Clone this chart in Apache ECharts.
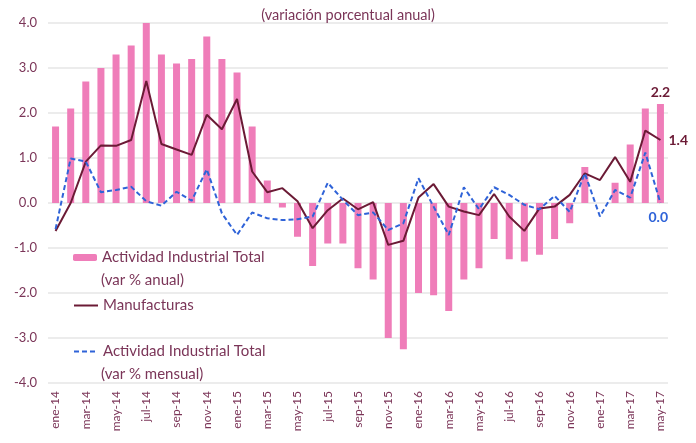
<!DOCTYPE html>
<html>
<head>
<meta charset="utf-8">
<script src="https://cdn.jsdelivr.net/npm/echarts@6/dist/echarts.min.js"></script>
<style>
  html, body { margin: 0; padding: 0; background: #fff; }
  #chart { width: 696px; height: 443px; }
</style>
</head>
<body>
<div id="chart"></div>
<script>
const months = [
  'ene-14', 'feb-14', 'mar-14', 'abr-14', 'may-14', 'jun-14', 'jul-14', 'ago-14', 'sep-14', 'oct-14', 'nov-14', 'dic-14',
  'ene-15', 'feb-15', 'mar-15', 'abr-15', 'may-15', 'jun-15', 'jul-15', 'ago-15', 'sep-15', 'oct-15', 'nov-15', 'dic-15',
  'ene-16', 'feb-16', 'mar-16', 'abr-16', 'may-16', 'jun-16', 'jul-16', 'ago-16', 'sep-16', 'oct-16', 'nov-16', 'dic-16',
  'ene-17', 'feb-17', 'mar-17', 'abr-17', 'may-17'
]

// Actividad Industrial Total (var % anual)
const totalAnual = [
  1.7, 2.1, 2.7, 3.0, 3.3, 3.5, 4.0, 3.3, 3.1, 3.2, 3.7, 3.2,
  2.9, 1.7, 0.5, -0.1, -0.75, -1.4, -0.9, -0.9, -1.45, -1.7, -3.0, -3.25,
  -2.0, -2.05, -2.4, -1.7, -1.45, -0.8, -1.25, -1.3, -1.15, -0.8, -0.45, 0.8,
  0.0, 0.45, 1.3, 2.1, 2.2
]

const manufacturas = [
  -0.62, 0.0, 0.92, 1.28, 1.27, 1.4, 2.71, 1.31, 1.19, 1.07, 1.96, 1.64,
  2.31, 0.7, 0.24, 0.33, 0.04, -0.56, -0.16, 0.1, -0.14, 0.02, -0.93, -0.84,
  0.12, 0.42, -0.08, -0.19, -0.27, 0.2, -0.3, -0.62, -0.12, -0.08, 0.18, 0.66,
  0.51, 1.02, 0.47, 1.61, 1.4
]

// Actividad Industrial Total (var % mensual)
const totalMensual = [
  -0.58, 0.99, 0.92, 0.24, 0.29, 0.36, 0.04, -0.06, 0.25, 0.05, 0.75, -0.23,
  -0.71, -0.21, -0.34, -0.38, -0.36, -0.3, 0.45, 0.07, -0.27, -0.21, -0.6, -0.45,
  0.55, -0.08, -0.71, 0.35, -0.14, 0.35, 0.18, -0.04, -0.14, 0.16, -0.2, 0.66,
  -0.3, 0.29, 0.12, 1.12, 0.0
]

const yTicks = { min: -4, max: 4, interval: 1 }

const textColor = '#7b3558'
const pink = '#ef7db9'
const maroon = '#6b1a35'
const blue = '#2f63d8'
const font = 'Lato'

const last = months.length - 1

const chart = echarts.init(document.getElementById('chart'), null, { renderer: 'canvas' })

const legendBase = {
  orient: 'vertical',
  left: 73,
  padding: 0,
  itemWidth: 24,
  itemGap: 0,
  textStyle: { color: textColor, fontSize: 15, fontFamily: font }
}

const valueLabel = color => ({ color, fontWeight: 'bold', fontSize: 14, fontFamily: font })

const option = {
  backgroundColor: '#fff',
  animation: false,
  title: {
    text: '(variación porcentual anual)',
    left: 'center',
    top: 3,
    textStyle: { color: textColor, fontSize: 14.5, fontWeight: 'normal', fontFamily: font }
  },
  legend: [
    { ...legendBase, top: 250, itemHeight: 7, data: ['Actividad Industrial Total'] },
    { ...legendBase, top: 298, itemHeight: 14, itemStyle: { opacity: 0 }, data: ['Manufacturas'] },
    { ...legendBase, top: 344, itemHeight: 14, itemStyle: { opacity: 0 }, data: ['Actividad Industrial Total '] }
  ],
  graphic: [
    {
      type: 'text', left: 101, top: 273,
      style: { text: '(var % anual)', fill: textColor, fontSize: 15, fontFamily: font }
    },
    {
      type: 'text', left: 101, top: 367,
      style: { text: '(var % mensual)', fill: textColor, fontSize: 15, fontFamily: font }
    }
  ],
  grid: {
    left: 48,
    right: 28,
    top: 23,
    bottom: 60
  },
  xAxis: {
    type: 'category',
    data: months,
    axisLine: { show: false },
    axisTick: { show: false },
    axisLabel: {
      interval: 1,
      rotate: 90,
      margin: 8,
      color: textColor,
      fontSize: 12,
      fontFamily: font
    }
  },
  yAxis: {
    type: 'value',
    ...yTicks,
    axisLine: { show: false },
    axisTick: { show: false },
    axisLabel: {
      color: textColor,
      fontSize: 13,
      fontFamily: font,
      margin: 11,
      formatter: v => v.toFixed(1)
    },
    splitLine: { lineStyle: { color: '#e6e6e6', width: 1.5 } }
  },
  series: [
    {
      name: 'Actividad Industrial Total',
      type: 'bar',
      barWidth: 7,
      data: totalAnual.map((v, i) => (i === last
        ? { value: v, label: { show: true, position: 'top', distance: 5, formatter: '{c}', ...valueLabel(maroon) } }
        : v)),
      itemStyle: { color: pink }
    },
    {
      name: 'Manufacturas',
      type: 'line',
      symbol: 'none',
      data: manufacturas,
      lineStyle: { color: maroon, width: 2 },
      itemStyle: { color: maroon },
      endLabel: {
        show: true,
        distance: 8,
        formatter: p => p.value.toFixed(1),
        ...valueLabel(maroon)
      }
    },
    {
      name: 'Actividad Industrial Total ',
      type: 'line',
      symbol: 'none',
      data: totalMensual,
      lineStyle: { color: blue, width: 2, type: [5, 3] },
      itemStyle: { color: blue },
      endLabel: {
        show: true,
        distance: 0,
        offset: [-12, 14],
        formatter: p => p.value.toFixed(1),
        ...valueLabel(blue)
      }
    }
  ]
}

chart.setOption(option)
</script>
</body>
</html>
